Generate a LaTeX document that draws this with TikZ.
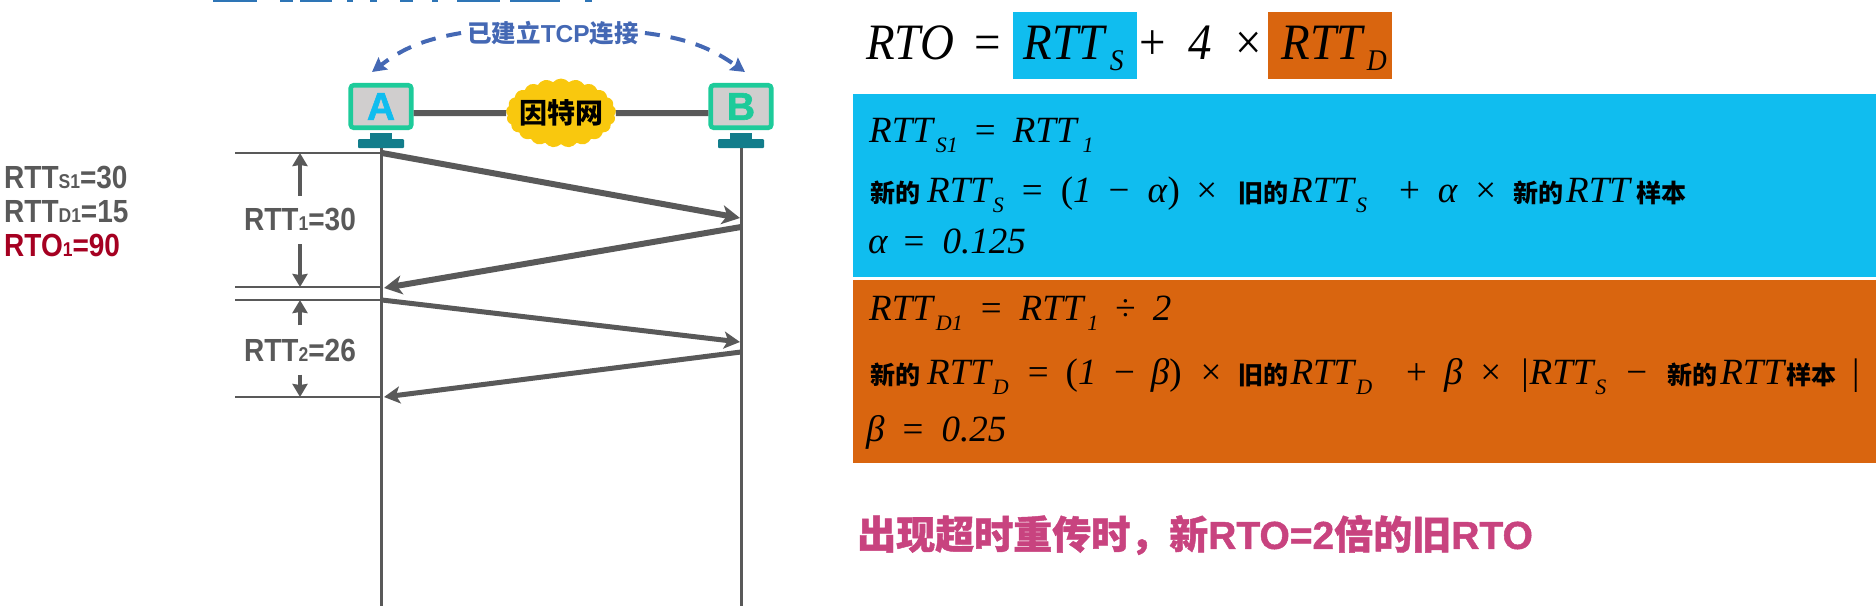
\documentclass[tikz,border=0pt]{standalone}
\usepackage{fontspec}
\setmainfont{Liberation Serif}
\newfontfamily\cjk{Noto Sans CJK SC}
\newfontfamily\arialf{Liberation Sans}
\usetikzlibrary{arrows.meta,shapes.symbols}
\definecolor{skyb}{HTML}{10BDEF}
\definecolor{burnt}{HTML}{D9650F}
\definecolor{linegrey}{HTML}{595959}
\definecolor{darkred}{HTML}{A50021}
\definecolor{mint}{HTML}{1DCB9A}
\definecolor{tealb}{HTML}{127D8B}
\definecolor{scrgrey}{HTML}{D0CECE}
\definecolor{cloudy}{HTML}{F9C80E}
\definecolor{tcpblue}{HTML}{4468B4}
\definecolor{titleb}{HTML}{2E75B6}
\definecolor{pinkb}{HTML}{C8437F}
\newcommand{\h}[1]{\hspace*{#1pt}}
\newcommand{\op}[1]{\textup{#1}}
\newcommand{\lsub}[1]{\raisebox{-10pt}{\fontsize{22}{22}\selectfont #1}}
\newcommand{\tsub}[1]{\raisebox{-11pt}{\fontsize{30}{30}\selectfont #1}}
\newcommand{\hz}[1]{{\cjk\bfseries\fontsize{25}{25}\selectfont #1}}
\newcommand{\sm}[1]{{\fontsize{20}{20}\selectfont #1}}
\newcommand{\fatrto}{{\arialf\addfontfeature{FakeBold=1.2}RTO}}
\tikzset{
	fml/.style={anchor=base west,inner sep=0pt,font=\fontsize{37}{37}\selectfont\itshape},
	fmltop/.style={anchor=base west,inner sep=0pt,font=\fontsize{51}{51}\selectfont\itshape\addfontfeature{FakeStretch=0.92}},
	swatch/.style={minimum width=124pt,minimum height=67pt,inner sep=0pt},
	screen/.style={draw=mint,fill=scrgrey,line width=4.6pt,rounded corners=3pt,minimum width=60.5pt,minimum height=42.5pt,inner sep=0pt,font=\arialf\bfseries\addfontfeature{FakeBold=1.5}\fontsize{39}{39}\selectfont},
	stem/.style={fill=tealb,minimum width=22pt,minimum height=6pt,inner sep=0pt},
	foot/.style={fill=tealb,rounded corners=1pt,minimum width=46pt,minimum height=9pt,inner sep=0pt},
	rttlab/.style={inner sep=0pt,text=linegrey,font=\arialf\bfseries\addfontfeature{FakeStretch=0.875}\fontsize{32}{32}\selectfont},
	tick/.style={draw=linegrey,line width=2.3pt},
	life/.style={draw=linegrey,line width=3pt},
	dim/.style={draw=linegrey,line width=4pt,-{Stealth[length=13pt,width=15pt,inset=1pt]}},
	seg/.style={draw=linegrey,line width=6pt,-{Stealth[length=18pt,width=19pt,inset=5pt]}},
	segb/.style={draw=linegrey,line width=5pt,-{Stealth[length=16pt,width=17pt,inset=4pt]}},
	conn/.style={draw=tcpblue,line width=4pt,dash pattern=on 15pt off 11pt,-{Stealth[length=14pt,width=15pt,inset=2pt]}}
}
\begin{document}
\begin{tikzpicture}[x=1pt,y=-1pt]
	\useasboundingbox (0,0) rectangle (1876,606);
	\foreach \a/\b in {213/257,280/293,300/332,347/353,370/377,400/413,432/438,457/500,510/560,585/592}
		\fill[titleb] (\a,0) rectangle (\b,2);

	\fill[skyb] (853,94) rectangle (1876,277);
	\fill[burnt] (853,280) rectangle (1876,463);

	\foreach \n/\x/\c in {A/381/skyb,B/741/mint}{
		\node[screen,text=\c] (scr\n) at (\x,106.5) {\n};
		\node[stem,anchor=north] (stem\n) at (\x,133) {};
		\node[foot,anchor=north] (foot\n) at (\x,139) {};
	}
	\node[cloud,cloud puffs=21,cloud puff arc=100,cloud ignores aspect,fill=cloudy,inner sep=0pt,minimum width=110pt,minimum height=69pt,
		label={center:{\cjk\bfseries\fontsize{28}{28}\selectfont 因特网}}] (net) at (561,113) {};
	\draw[line width=6pt,linegrey] (net) -- (net -| scrA.east);
	\draw[line width=6pt,linegrey] (net) -- (net -| scrB.west);

	\node[inner sep=6pt,text=tcpblue,font=\cjk\bfseries\fontsize{24.5}{24.5}\selectfont] (tcp) at (553,33) {已建立{\arialf TCP}连接};
	\coordinate (tipA) at (372,72);
	\coordinate (tipB) at (745,72);
	\draw[conn] (tcp.west) to[bend right=14] (tipA);
	\draw[conn] (tcp.east) to[bend left=14] (tipB);

	\coordinate (botm) at (0,606);
	\draw[life] (footA.south) -- (footA.south |- botm);
	\draw[life] (footB.south) -- (footB.south |- botm);

	\coordinate (t1) at (235,153);
	\coordinate (t2) at (235,287);
	\coordinate (t3) at (235,300);
	\coordinate (t4) at (235,397);
	\foreach \t in {t1,t2,t3,t4}
		\draw[tick] (\t) -- (\t -| footA.south);

	\coordinate (a1) at (382,153);
	\coordinate (b1) at (740,218);
	\coordinate (b2) at (741,227);
	\coordinate (a2) at (384,288);
	\coordinate (a3) at (382,300);
	\coordinate (b3) at (740,342);
	\coordinate (b4) at (741,352);
	\coordinate (a4) at (384,397);
	\draw[seg] (a1) -- (b1);
	\draw[seg] (b2) -- (a2);
	\draw[segb] (a3) -- (b3);
	\draw[segb] (b4) -- (a4);

	\node[rttlab,minimum height=48pt] (rtta) at (300,220) {RTT\sm{1}=30};
	\node[rttlab,minimum height=49pt] (rttb) at (300,350) {RTT\sm{2}=26};
	\draw[dim] (rtta.north) -- (rtta.north |- t1);
	\draw[dim] (rtta.south) -- (rtta.south |- t2);
	\draw[dim] (rttb.north) -- (rttb.north |- t3);
	\draw[dim] (rttb.south) -- (rttb.south |- t4);

	\node[rttlab,anchor=base west] (srtt) at (4,188) {RTT\sm{S1}=30};
	\node[rttlab,anchor=base west] (drtt) at (4,222) {RTT\sm{D1}=15};
	\node[rttlab,anchor=base west,text=darkred] (rtoa) at (4,256) {RTO\sm{1}=90};

	\node[swatch,fill=skyb] (boxS) at (1075,45.5) {};
	\node[swatch,fill=burnt] (boxD) at (1329.5,45.5) {};
	\node[fmltop] (rto) at (866,59) {RTO\h{20}\op{=}\h{23.5}RTT\h{5}\tsub{S}\h{16}\op{+}\h{22.5}4\h{23.5}\op{×}\h{20}RTT\h{4}\tsub{D}};

	\node[fml] (sa) at (869,142) {RTT\h{3}\lsub{S1}\h{17}\op{=}\h{17}RTT\h{6}\lsub{1}};
	\node[fml] (sb) at (870,202) {\hz{新的}\h{7}RTT\h{2}\lsub{S}\h{18}\op{=}\h{18}\op{(}1\h{17}\op{−}\h{18}α\op{)}\h{16.5}\op{×}\h{21}\hz{旧的}\h{2}RTT\h{2}\lsub{S}\h{32}\op{+}\h{18}α\h{18}\op{×}\h{17}\hz{新的}\h{3}RTT\h{7}\hz{样本}};
	\node[fml] (sc) at (868,253) {α\h{16}\op{=}\h{18}0.125};

	\node[fml] (da) at (869,320) {RTT\h{3}\lsub{D1}\h{18}\op{=}\h{18}RTT\h{4}\lsub{1}\h{17}\op{÷}\h{17}2};
	\node[fml] (db) at (870,384) {\hz{新的}\h{7}RTT\h{2}\lsub{D}\h{19}\op{=}\h{17}\op{(}1\h{17.5}\op{−}\h{16}β\op{)}\h{19}\op{×}\h{17}\hz{旧的}\h{2}RTT\h{2}\lsub{D}\h{34}\op{+}\h{17}β\h{18}\op{×}\h{20}\op{|}\h{1}RTT\h{2}\lsub{S}\h{20}\op{−}\h{20}\hz{新的}\h{3}RTT\h{2}\hz{样本}\h{16}\op{|}};
	\node[fml] (dc) at (866,441) {β\h{18}\op{=}\h{18}0.25};

	\node[anchor=west,inner sep=0pt,text=pinkb,font=\cjk\bfseries\addfontfeature{FakeBold=1.2}\fontsize{39}{39}\selectfont] (note) at (857,535) {出现超时重传时，新\fatrto{\arialf\addfontfeature{FakeBold=1.2}=2}倍的旧\fatrto};
\end{tikzpicture}
\end{document}
